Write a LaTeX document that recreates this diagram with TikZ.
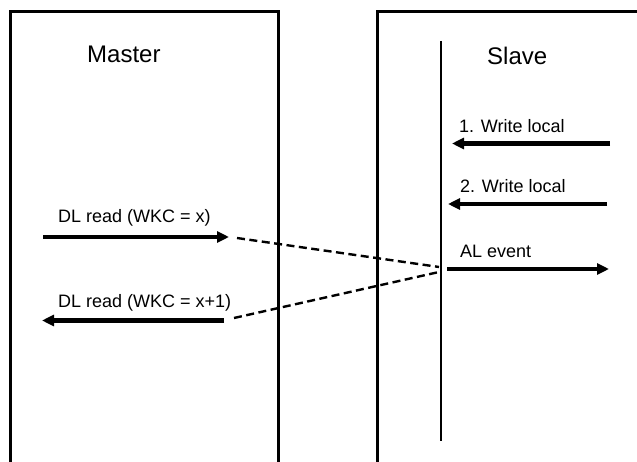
\documentclass[tikz,border=0pt]{standalone}
\usepackage{fontspec}
\setmainfont{Liberation Sans}
\usetikzlibrary{arrows.meta}
\begin{document}
\begin{tikzpicture}[x=1pt,y=-1pt,
  frame/.style={line width=3pt},
  lifeline/.style={line width=2.4pt},
  msg/.style={line width=4.6pt,-{Triangle[length=12pt,width=11pt]}},
  link/.style={line width=2.4pt,dash pattern=on 8pt off 4.5pt},
  title/.style={font=\fontsize{24}{28}\selectfont,inner sep=0pt,anchor=base west},
  label/.style={font=\fontsize{18}{21}\selectfont,inner sep=0pt,anchor=base west}]
\useasboundingbox (0,0) rectangle (637,462);
\clip (0,0) rectangle (637,462);

% Master and Slave frames, open towards the page edges
\draw[frame] (10,480) -- (10,12) -- (278,12) -- (278,480);
\draw[frame] (377,480) -- (377,12) -- (660,12);

\node[title] (master) at (87,63) {Master};
\node[title] (slave) at (487,65) {Slave};

% Slave time line
\coordinate (lt) at (441,41);
\coordinate (lb) at (441,441);
\draw[lifeline] (lt) -- (lb);

% Local writes and the AL event on the slave side
\coordinate (w1s) at (610,143.5);
\coordinate (w1e) at (452,143.5);
\coordinate (w2s) at (607,204);
\coordinate (w2e) at (448,204);
\coordinate (als) at (447,269);
\coordinate (ale) at (609,269);
\draw[msg] (w1s) -- (w1e);
\draw[msg] (w2s) -- (w2e);
\draw[msg] (als) -- (ale);
\node[label] (w1) at (459,133) {1. Write local};
\node[label] (w2) at (460,192.5) {2. Write local};
\node[label] (al) at (460,258) {AL event};

% DL read frames on the master side
\coordinate (r1s) at (43,237);
\coordinate (r1e) at (229,237);
\coordinate (r2s) at (224,320.5);
\coordinate (r2e) at (42,320.5);
\draw[msg] (r1s) -- (r1e);
\draw[msg] (r2s) -- (r2e);
\node[label] (r1) at (58,223) {DL read (WKC = x)};
\node[label] (r2) at (58,308) {DL read (WKC = x+1)};

% Frame passing through the slave
\coordinate (d1a) at (237,238);
\coordinate (d1b) at (439,267);
\coordinate (d2a) at (234,318);
\coordinate (d2b) at (439,272);
\draw[link] (d1a) -- (d1b);
\draw[link] (d2a) -- (d2b);
\end{tikzpicture}
\end{document}
